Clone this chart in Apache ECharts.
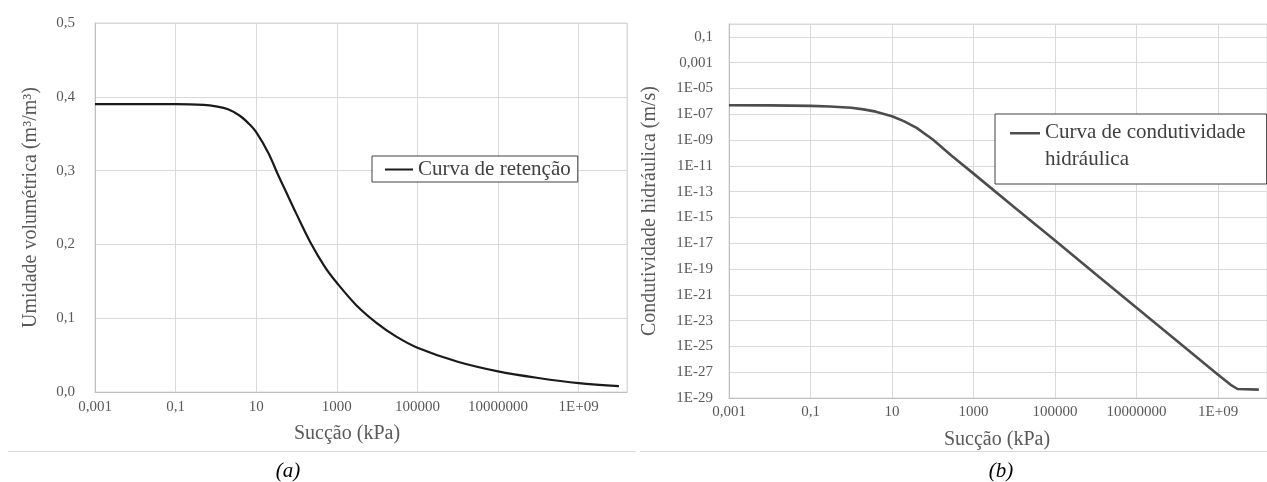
<!DOCTYPE html>
<html>
<head>
<meta charset="utf-8">
<script src="https://cdn.jsdelivr.net/npm/echarts@6/dist/echarts.min.js"></script>
<style>
  html, body { margin: 0; padding: 0; background: #ffffff; }
  #chart { width: 1267px; height: 482px; }
</style>
</head>
<body>
<div id="chart"></div>
<script>
// (a) Water retention curve: suction (kPa) vs volumetric water content (m³/m³)
const retSuction = [0.001, 0.01, 0.1, 0.5, 1, 2, 4, 7, 10, 20, 35, 50, 100, 220, 500, 1000, 3000, 10000, 30000, 1e5, 1e6, 1e7, 1e8, 1e9, 1e10];
const retTheta   = [0.390, 0.390, 0.390, 0.389, 0.387, 0.383, 0.374, 0.362, 0.352, 0.324, 0.294, 0.276, 0.241, 0.203, 0.170, 0.148, 0.118, 0.093, 0.075, 0.060, 0.041, 0.028, 0.019, 0.012, 0.008];

// (b) Hydraulic conductivity curve: suction (kPa) vs conductivity (m/s)
const condSuction = [0.001, 0.01, 0.1, 0.3, 1, 2, 4, 10, 20, 40, 100, 300, 1000, 1e4, 1e5, 1e6, 1e7, 1e8, 1e9, 2e9, 3e9, 1e10];
const condK       = [5.0e-7, 4.9e-7, 4.5e-7, 4.0e-7, 3.2e-7, 2.4e-7, 1.6e-7, 7.1e-8, 2.8e-8, 8.9e-9, 1.1e-9, 5.6e-11, 2.5e-12, 6.3e-15, 1.6e-17, 4.0e-20, 1.0e-22, 2.5e-25, 6.3e-28, 1.1e-28, 5.0e-29, 4.5e-29];

// Tick labels (one label every two decades on the log axes)
const suctionTickLabels = ['0,001', '0,1', '10', '1000', '100000', '10000000', '1E+09'];
const thetaTickLabels   = ['0,0', '0,1', '0,2', '0,3', '0,4', '0,5'];
const condTickLabels    = ['1E-29', '1E-27', '1E-25', '1E-23', '1E-21', '1E-19', '1E-17', '1E-15',
                           '1E-13', '1E-11', '1E-09', '1E-07', '1E-05', '0,001', '0,1'];

// Log axes are drawn as value axes in decades counted from the lowest tick
const SUC_MIN_EXP = -3;   // 0,001 kPa
const K_MIN_EXP = -29;    // 1E-29 m/s
const sucAxis = s => Math.log10(s) - SUC_MIN_EXP;
const kAxis = k => Math.log10(k) - K_MIN_EXP;

function labelAt(list, value, step) {
  const i = Math.round(value / step);
  if (Math.abs(value - i * step) > 1e-6) return '';
  return list[i] !== undefined ? list[i] : '';
}

const SERIF = "'Liberation Serif', 'Times New Roman', serif";
const TXT = '#595959';
const GRIDC = '#d9d9d9';

const axisCommon = {
  axisTick: { show: false },
  axisLine: { show: true, lineStyle: { color: '#bfbfbf', width: 1 } },
  splitLine: { show: true, lineStyle: { color: GRIDC, width: 1 } },
  nameLocation: 'middle'
};

const chart = echarts.init(document.getElementById('chart'), null, { renderer: 'canvas' });

chart.setOption({
  animation: false,
  backgroundColor: '#ffffff',
  grid: [
    { left: 95, width: 532, top: 23, height: 369, show: true, borderColor: GRIDC, borderWidth: 1, backgroundColor: 'transparent' },
    // plot (b) runs past the right edge of the page
    { left: 729, width: 556, top: 24, height: 374, show: true, borderColor: GRIDC, borderWidth: 1, backgroundColor: 'transparent' }
  ],
  xAxis: [
    Object.assign({}, axisCommon, {
      type: 'value', gridIndex: 0, min: 0, max: 13.2, interval: 2,
      name: 'Sucção (kPa)', nameGap: 32,
      nameTextStyle: { fontFamily: SERIF, fontSize: 20, color: TXT, padding: [0, 28, 0, 0] },
      axisLabel: { fontFamily: SERIF, fontSize: 15, color: TXT, margin: 8, showMaxLabel: false,
        formatter: v => labelAt(suctionTickLabels, v, 2) }
    }),
    Object.assign({}, axisCommon, {
      type: 'value', gridIndex: 1, min: 0, max: 13.2, interval: 2,
      name: 'Sucção (kPa)', nameGap: 32,
      nameTextStyle: { fontFamily: SERIF, fontSize: 20, color: TXT, padding: [0, 2, 0, 0] },
      axisLabel: { fontFamily: SERIF, fontSize: 15, color: TXT, margin: 7, showMaxLabel: false,
        formatter: v => labelAt(suctionTickLabels, v, 2) }
    })
  ],
  yAxis: [
    Object.assign({}, axisCommon, {
      type: 'value', gridIndex: 0, min: 0, max: 0.5, interval: 0.1,
      name: 'Umidade volumétrica (m³/m³)', nameGap: 54,
      nameTextStyle: { fontFamily: SERIF, fontSize: 20, color: TXT },
      axisLabel: { fontFamily: SERIF, fontSize: 15, color: TXT, margin: 20,
        formatter: v => labelAt(thetaTickLabels, v, 0.1) }
    }),
    Object.assign({}, axisCommon, {
      type: 'value', gridIndex: 1, min: 0, max: 29, interval: 2,
      name: 'Condutividade hidráulica (m/s)', nameGap: 69,
      nameTextStyle: { fontFamily: SERIF, fontSize: 20, color: TXT },
      axisLabel: { fontFamily: SERIF, fontSize: 15, color: TXT, margin: 16,
        formatter: v => labelAt(condTickLabels, v, 2) }
    })
  ],
  legend: [
    {
      left: 372, top: 156, orient: 'horizontal', selectedMode: false,
      padding: [3, 7, 2, 13], itemWidth: 28, itemHeight: 2, itemGap: 0,
      borderColor: '#404040', borderWidth: 1, backgroundColor: '#ffffff',
      textStyle: { fontFamily: SERIF, fontSize: 21, color: '#404040' },
      data: [{ name: 'Curva de retenção', icon: 'path://M0,0H28V2H0Z', itemStyle: { color: '#1a1a1a', borderWidth: 0 } }]
    },
    {
      left: 995, top: 114, orient: 'horizontal', selectedMode: false,
      padding: [5, 21, 11, 15], itemWidth: 30, itemHeight: 28, itemGap: 0,
      borderColor: '#404040', borderWidth: 1, backgroundColor: '#ffffff',
      textStyle: { fontFamily: SERIF, fontSize: 21, lineHeight: 27, color: '#404040' },
      formatter: () => 'Curva de condutividade\nhidráulica',
      data: [{ name: 'Curva de condutividade hidráulica', icon: 'path://M0,0H30V2.5H0Z M0,28H0.01V28.01H0Z', itemStyle: { color: '#4d4d4d', borderWidth: 0 } }]
    }
  ],
  series: [
    {
      type: 'line', name: 'Curva de retenção', xAxisIndex: 0, yAxisIndex: 0,
      data: retSuction.map((s, i) => [sucAxis(s), retTheta[i]]),
      symbol: 'none', showSymbol: false, smooth: 0.35,
      lineStyle: { color: '#1a1a1a', width: 2.2 }, itemStyle: { color: '#1a1a1a' }
    },
    {
      type: 'line', name: 'Curva de condutividade hidráulica', xAxisIndex: 1, yAxisIndex: 1,
      data: condSuction.map((s, i) => [sucAxis(s), kAxis(condK[i])]),
      symbol: 'none', showSymbol: false, smooth: false,
      lineStyle: { color: '#4d4d4d', width: 2.6, join: 'round' }, itemStyle: { color: '#4d4d4d' }
    }
  ],
  graphic: [
    { type: 'line', shape: { x1: 8, y1: 451.5, x2: 636, y2: 451.5 }, style: { stroke: GRIDC, lineWidth: 1 } },
    { type: 'line', shape: { x1: 640, y1: 451.5, x2: 1267, y2: 451.5 }, style: { stroke: GRIDC, lineWidth: 1 } },
    { type: 'text', x: 288, y: 471, style: { text: '(a)', fontFamily: SERIF, fontSize: 21, fontStyle: 'italic', fill: '#000000', align: 'center', verticalAlign: 'middle' } },
    { type: 'text', x: 1001, y: 471, style: { text: '(b)', fontFamily: SERIF, fontSize: 21, fontStyle: 'italic', fill: '#000000', align: 'center', verticalAlign: 'middle' } }
  ]
});
</script>
</body>
</html>
